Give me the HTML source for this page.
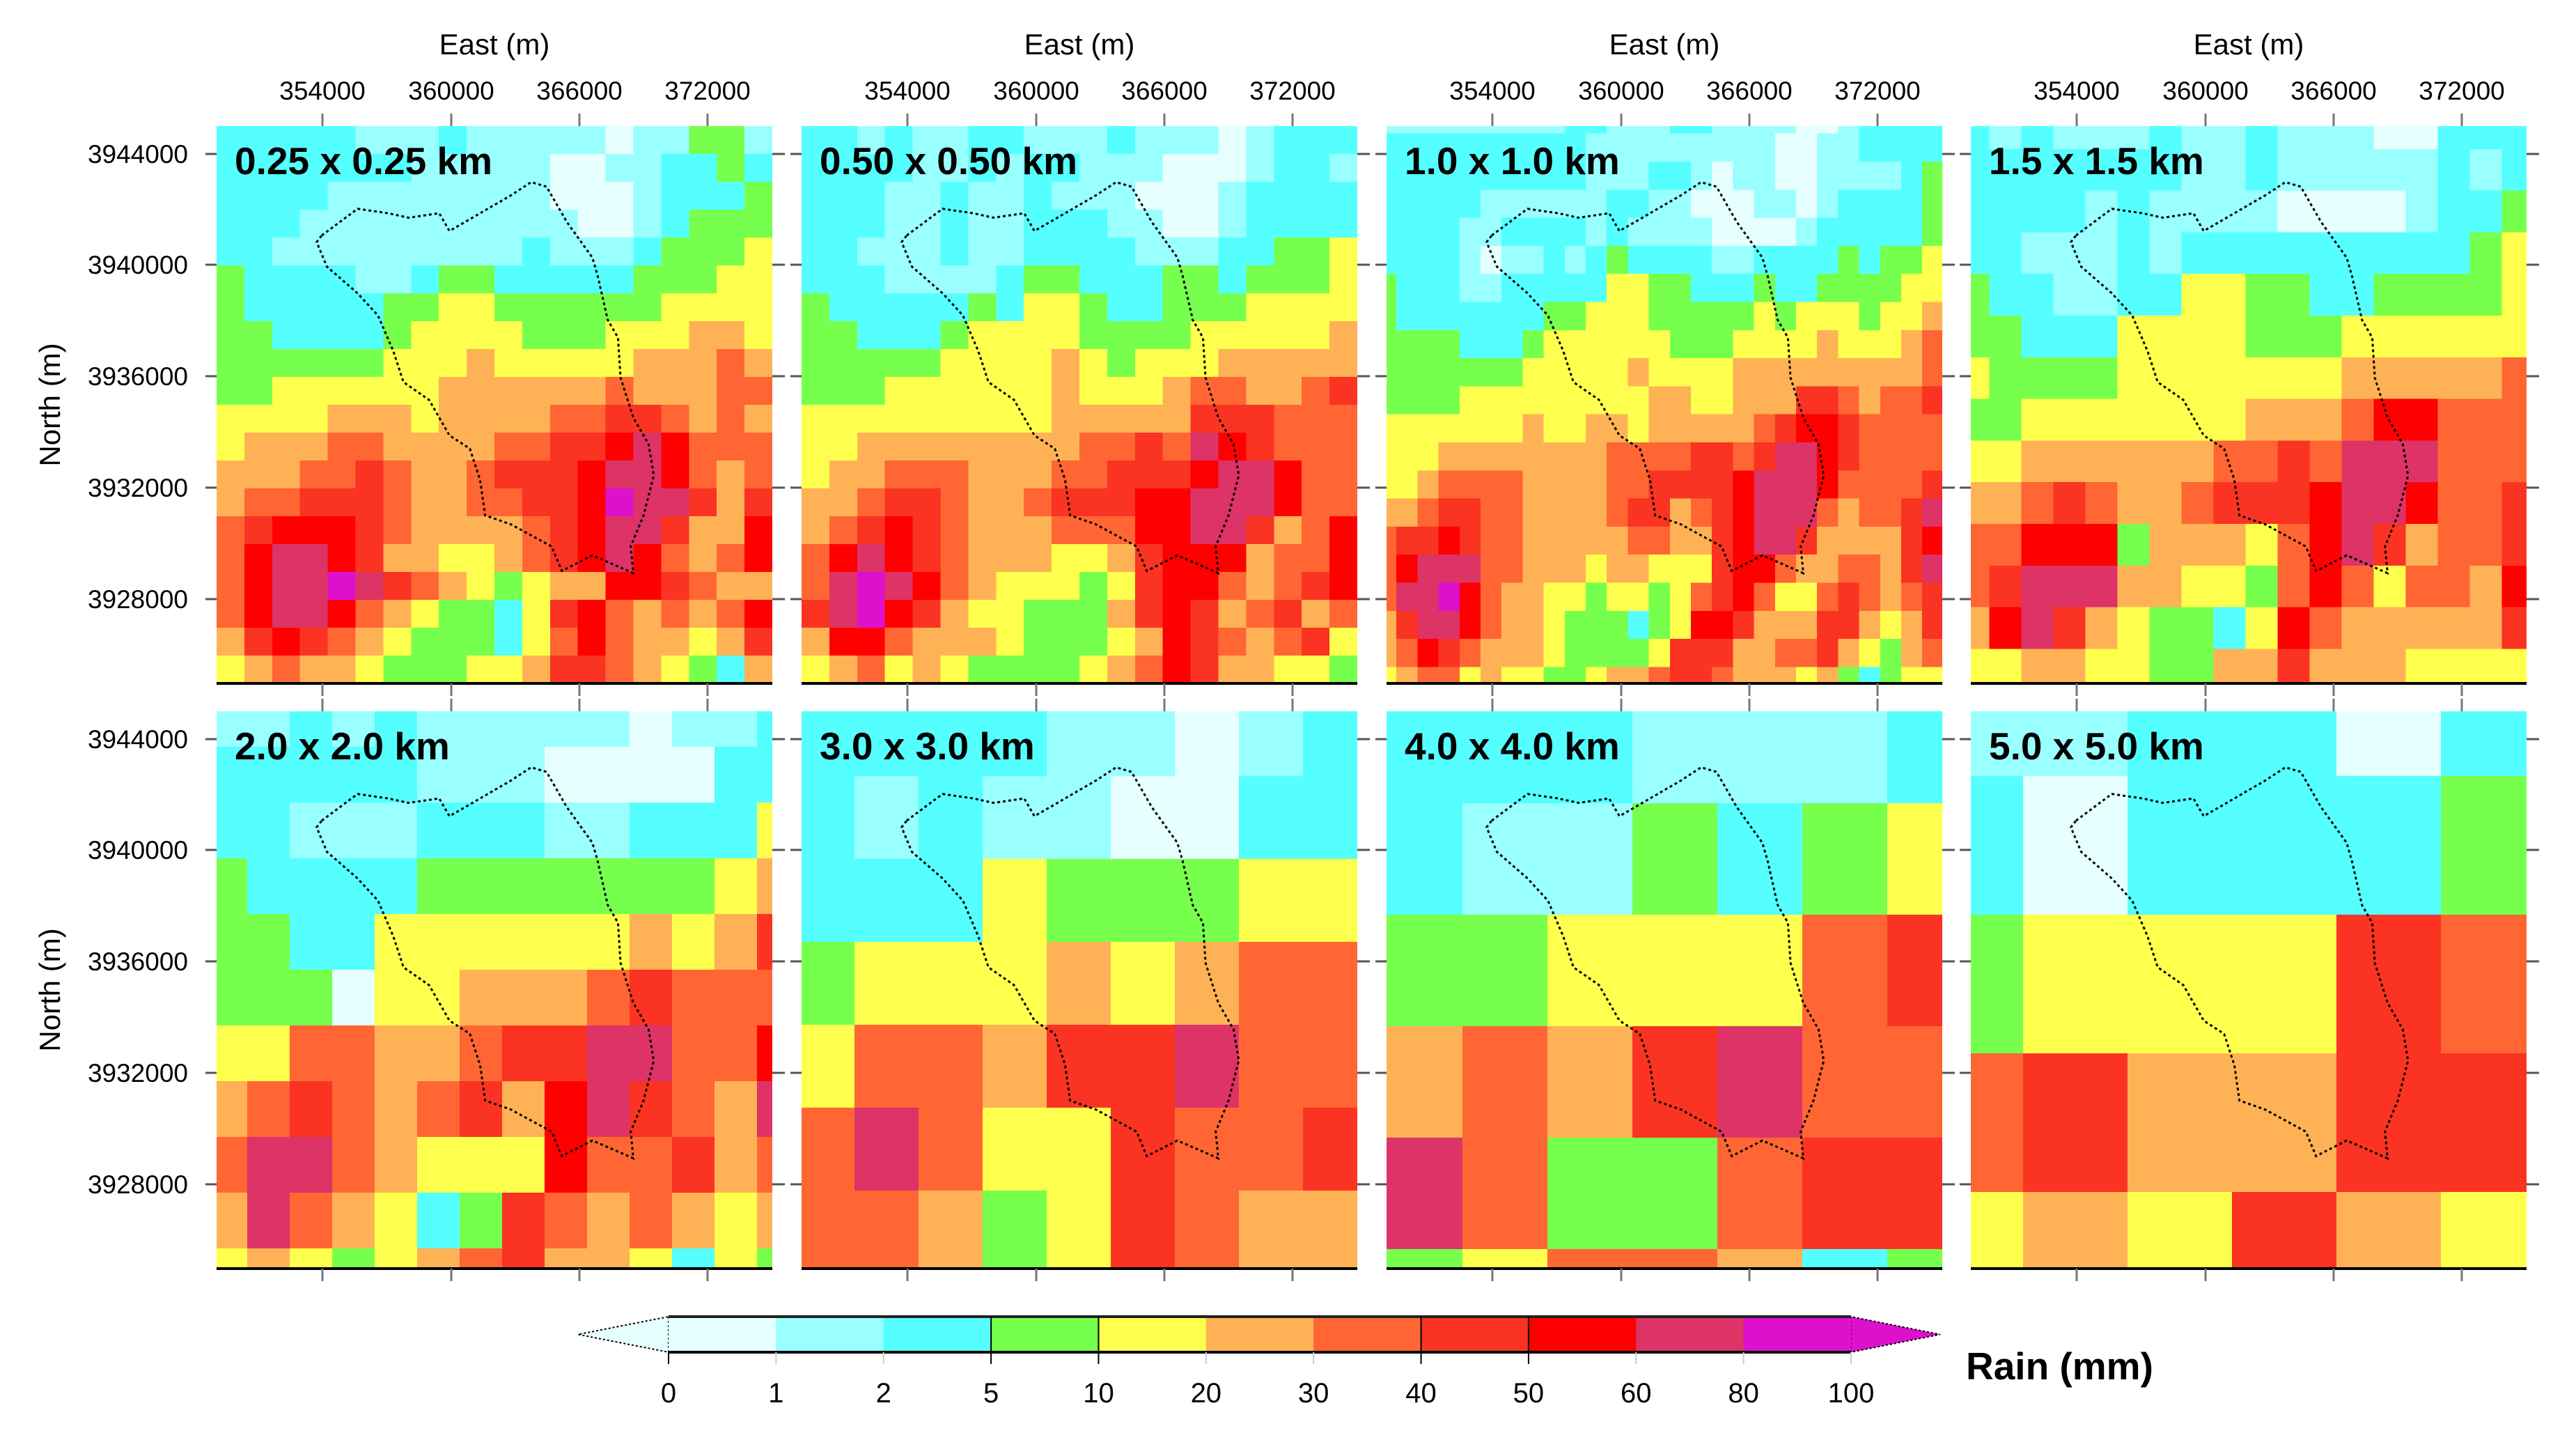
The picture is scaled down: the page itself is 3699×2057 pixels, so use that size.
<!DOCTYPE html>
<html><head><meta charset="utf-8"><style>
html,body{margin:0;padding:0;background:#fff;}
svg{display:block;font-family:"Liberation Sans",sans-serif;}
</style></head><body>
<svg id="fig" xmlns="http://www.w3.org/2000/svg" width="3699" height="2057" viewBox="0 0 3699 2057"></svg>
<script>
// ---- data: colour class per grid cell (hex digit index into bins) ----
const binLabels = ["0","1","2","5","10","20","30","40","50","60","80","100"];
const binColors = ["#e6ffff","#99ffff","#55ffff","#77ff4d","#ffff4d","#ffb255","#ff6633","#fa3322","#ff0000","#dd3366","#dd11cc"];
const panelTitles = ["0.25 x 0.25 km","0.50 x 0.50 km","1.0 x 1.0 km","1.5 x 1.5 km","2.0 x 2.0 km","3.0 x 3.0 km","4.0 x 4.0 km","5.0 x 5.0 km"];
const eastTicks = ["354000","360000","366000","372000"];
const northTicks = ["3944000","3940000","3936000","3932000","3928000"];

const grid025 = [
"22222111211111011331","22222221111100112232","22221111111100012223","22211111111110012333",
"22111111111211123334","32222112332222233344","32222233443333334444","33222234444333444554",
"33333344454444455565","33444444555555655566","44445554555566776565","45556655556677898666",
"55566765567778998656","56677765566778A99757","67888765555678997558","68998755445678986568",
"6899A976543455887655","68998654332478656568","57876543332468655457","45655433344577654325"];
const grid050 = [
"22121122111211101222","22221121221110001221","22211211211100012222","22211211222110012222",
"22111211222211122334","22211112332223323334","32222232443223334444","33222344443333444445",
"33333444454344455555","33344444454445665567","44444444455555777666","44555555556676987666",
"45566655566777899866","55677655677788999866","56787655566688997568","68987655544578885668",
"69A98654443478865678","79A87544333578756756","58865554333458765674","45645433334568755443"];
const grid100 = [
"111111111221112211110012222","222222222211111111100112222","222222222211122101100111123",
"222221111112211000110122223","222211222212111100001222223","222210112123222211222232334",
"322211222224433222322333344","322222223344433333434443445","333322234444443334444544456",
"333333344444544445555555556","333344444444455445557765667","444444454455455555678876666",
"444555555556666776799876666","445666655556677778999866667","556776655556775678999656679",
"677876655555665578997555578","689996655545544478865566579","699A86554434434678644676567",
"579986554333234887555775457","568765554333347775566754356","456645443345567765554532344"];
const grid150 = [
"212111211211100222","222222211211111212","222212111100001223","221112122222222234",
"322112244332233334","332224444333444444","433334444444555556","334444444555688666",
"445555556676999666","556765567778998667","668883555468975667","679995544368646658",
"589754332486555557","445544335575554444"];
const grid200 = [
"11212111110112","22222111000022","22111222112224","32222333333345","33224444445457",
"33304455567666","44665567799668","56765675897659","69965444866756","59654237656545","45434567554243"];
const grid300 = ["222211012","212110022","222433344","344454566","466577966","696447667","665347655"];
const grid400 = ["2221112","2113234","3344467","5657966","9633677","3466523"];
const grid500 = ["112202","202223","344476","675577","454754"];
const grids = [grid025,grid050,grid100,grid150,grid200,grid300,grid400,grid500];

// ---- layout (styling, not data) ----
const W = 798, H = 800;
const panelX = [311,1151,1991,2830];
const panelY = [181,1021];
const cellGeom = [
 {cw:39.9,ch:40,ox:0,oy:0},{cw:39.9,ch:40,ox:0,oy:0},
 {cw:30.2,ch:40.3,ox:-16,oy:-29.6},{cw:46,ch:59.8,ox:-19.4,oy:-27},
 {cw:61,ch:80,ox:-17,oy:-29},{cw:92,ch:119,ox:-16,oy:-26},
 {cw:122,ch:160,ox:-13,oy:-28},{cw:150,ch:199,ox:-75,oy:-106}];
const xTickOff = [152,337,521,705];
const yTickOff = [40,199,359,519,679];

const NS = "http://www.w3.org/2000/svg";
const svg = document.getElementById("fig");
function mk(tag, attrs, parent){
  const e = document.createElementNS(NS, tag);
  for (const k in attrs) e.setAttribute(k, attrs[k]);
  (parent||svg).appendChild(e);
  return e;
}
const defs = mk("defs",{});

// catchment outline (relative to panel, decorative)
const outlineZ = [[630,530],[700,470],[760,480],[800,490],[860,480],[880,520],[940,480],[1000,440],[1040,410],[1070,420],[1110,500],[1160,580],[1170,620],[1190,720],[1210,760],[1215,850],[1240,940],[1270,1000],[1280,1070],[1260,1160],[1235,1230],[1240,1290],[1200,1270],[1160,1250],[1100,1285],[1080,1230],[1000,1180],[950,1160],[940,1080],[920,1010],[880,980],[840,900],[790,860],[770,790],[740,710],[700,660],[640,600],[620,545]];
const outlinePts = outlineZ.map(p=>[p[0]*0.7334-311, p[1]/1.568-181]);

for (let p=0;p<8;p++){
  const px = panelX[p%4], py = panelY[Math.floor(p/4)];
  const g = mk("g",{});
  
  
  const cp = mk("clipPath",{id:"cp"+p},defs);
  mk("rect",{x:px,y:py,width:W,height:H},cp);
  const cells = mk("g",{"clip-path":"url(#cp"+p+")","shape-rendering":"crispEdges"},g);
  
  
  const gm = cellGeom[p], grid = grids[p];
  for (let r=0;r<grid.length;r++){
    for (let c=0;c<grid[r].length;c++){
      const k = parseInt(grid[r][c],16);
      const rect = mk("rect",{x:px+gm.ox+c*gm.cw, y:py+gm.oy+r*gm.ch, width:gm.cw+0.6, height:gm.ch+0.6, fill:binColors[k]},cells);
      
      
    }
  }
  // catchment outline
  const ol = mk("polygon",{points:outlinePts.map(q=>(px+q[0]).toFixed(1)+","+(py+q[1]).toFixed(1)).join(" "),fill:"none",stroke:"#000","stroke-width":3,"stroke-dasharray":"4 4"},g);
  
  
  // bottom axis line
  const bl = mk("line",{x1:px,y1:py+H,x2:px+W,y2:py+H,stroke:"#000","stroke-width":4},g);
  
  
  // ticks
  for (let i=0;i<xTickOff.length;i++){
    const tx = px+xTickOff[i];
    const t1 = mk("line",{x1:tx,y1:py-18,x2:tx,y2:py,stroke:"#777","stroke-width":3},g);
    
    
    const t2 = mk("line",{x1:tx,y1:py+H,x2:tx,y2:py+H+18,stroke:"#777","stroke-width":3},g);
    
    
  }
  for (let i=0;i<yTickOff.length;i++){
    const ty = py+yTickOff[i];
    const t1 = mk("line",{x1:px-16,y1:ty,x2:px,y2:ty,stroke:"#555","stroke-width":3},g);
    
    
    const t2 = mk("line",{x1:px+W,y1:ty,x2:px+W+18,y2:ty,stroke:"#555","stroke-width":3},g);
    
    
  }
  // title
  const tt = mk("text",{x:px+26,y:py+69,"font-size":55,"font-weight":"bold",fill:"#000"},g);
  tt.textContent = panelTitles[p];
  
  
  // top labels (first row)
  if (p<4){
    for (let i=0;i<eastTicks.length;i++){
      const tl = mk("text",{x:px+xTickOff[i],y:143,"font-size":37,"text-anchor":"middle",fill:"#000"},g);
      tl.textContent = eastTicks[i];
      
      
    }
    const et = mk("text",{x:px+W/2,y:78,"font-size":42,"text-anchor":"middle",fill:"#000"},g);
    et.textContent = "East (m)";
    
    
  }
  if (p%4===0){
    for (let i=0;i<northTicks.length;i++){
      const yl = mk("text",{x:270,y:py+yTickOff[i]+13,"font-size":37,"text-anchor":"end",fill:"#000"},g);
      yl.textContent = northTicks[i];
      
      
    }
    const cy = py+H/2;
    const nt = mk("text",{x:86,y:cy,"font-size":42,"text-anchor":"middle",fill:"#000",transform:"rotate(-90 86 "+cy+")"},g);
    nt.textContent = "North (m)";
    
    
  }
}

// ---- colour bar ----
const cb = mk("g",{});


const cbL = 960, cbR = 2658, cbT = 1890, cbB = 1941;
const bw = (cbR-cbL)/binColors.length;
const lt = mk("polygon",{points:`${cbL},${cbT} ${cbL},${cbB} 830,${(cbT+cbB)/2}`,fill:binColors[0],stroke:"#000","stroke-width":2,"stroke-dasharray":"3 3"},cb);


const rt = mk("polygon",{points:`${cbR},${cbT} ${cbR},${cbB} 2786,${(cbT+cbB)/2}`,fill:binColors[10],stroke:"#000","stroke-width":2,"stroke-dasharray":"3 3"},cb);


for (let i=0;i<binColors.length;i++){
  const r = mk("rect",{x:cbL+i*bw,y:cbT,width:bw+0.5,height:cbB-cbT,fill:binColors[i]},cb);
  
  
}
mk("line",{x1:cbL,y1:cbT,x2:cbR,y2:cbT,stroke:"#222","stroke-width":4},cb);
mk("line",{x1:cbL,y1:cbB,x2:cbR,y2:cbB,stroke:"#000","stroke-width":4},cb);
for (let i=0;i<binLabels.length;i++){
  const x = cbL+i*bw;
  const dark = ["0","5","10","40","50"].includes(binLabels[i]);
  if (dark && i>0) mk("line",{x1:x,y1:cbT,x2:x,y2:cbB,stroke:"#000","stroke-width":2},cb);
  mk("line",{x1:x,y1:cbB,x2:x,y2:1958,stroke:dark?"#000":"#ccc","stroke-width":2},cb);
  const t = mk("text",{x:x,y:2013,"font-size":40,"text-anchor":"middle",fill:"#000"},cb);
  t.textContent = binLabels[i];
  
  
}
const rl = mk("text",{x:2823,y:1980,"font-size":55,"font-weight":"bold",fill:"#000"},cb);
rl.textContent = "Rain (mm)";


</script>
</body></html>
